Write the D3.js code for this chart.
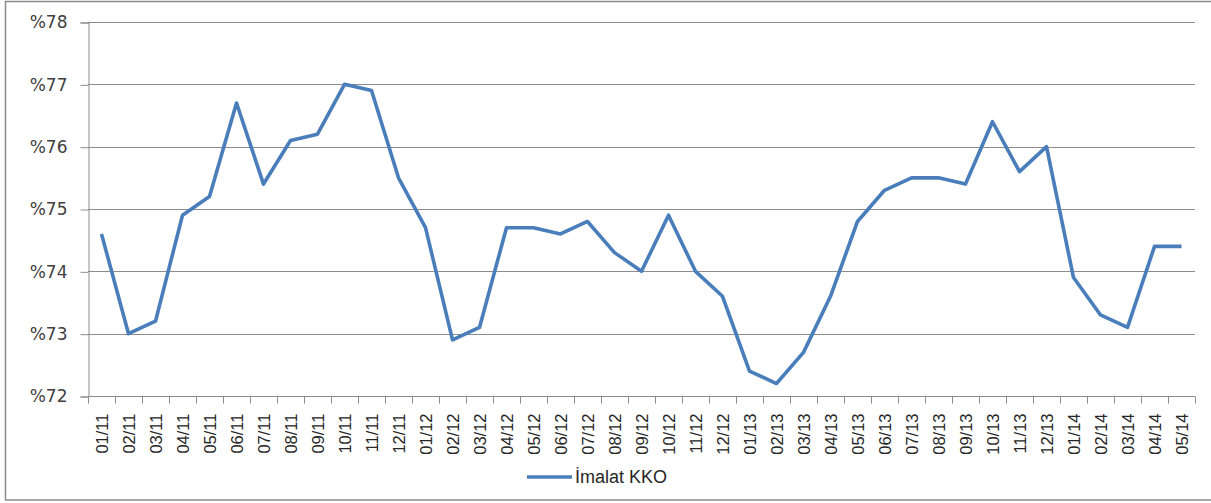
<!DOCTYPE html>
<html>
<head>
<meta charset="utf-8">
<script src="https://cdn.jsdelivr.net/npm/d3@7"></script>
<style>
  body { margin: 0; background: #fff; }
  svg { display: block; }
</style>
</head>
<body>
<div class="canvas"></div>
<script>
// months 01/11 .. 05/14
const months = ['01/11','02/11','03/11','04/11','05/11','06/11','07/11','08/11','09/11','10/11','11/11','12/11',
	'01/12','02/12','03/12','04/12','05/12','06/12','07/12','08/12','09/12','10/12','11/12','12/12',
	'01/13','02/13','03/13','04/13','05/13','06/13','07/13','08/13','09/13','10/13','11/13','12/13',
	'01/14','02/14','03/14','04/14','05/14'];

const kko = [74.6, 73.0, 73.2, 74.9, 75.2, 76.7, 75.4, 76.1, 76.2, 77.0, 76.9, 75.5,
	74.7, 72.9, 73.1, 74.7, 74.7, 74.6, 74.8, 74.3, 74.0, 74.9, 74.0, 73.6,
	72.4, 72.2, 72.7, 73.6, 74.8, 75.3, 75.5, 75.5, 75.4, 76.4, 75.6, 76.0,
	73.9, 73.3, 73.1, 74.4, 74.4];

const yTicks = [72, 73, 74, 75, 76, 77, 78];
const seriesName = 'İmalat KKO';

const dims = { width: 1211, height: 503 };
const plot = { left: 88, right: 1195, top: 22, bottom: 396 };
const lineColour = '#4a7ebb';
const gridColour = '#8c8c8c';

const svg = d3.select('.canvas').append('svg')
	.attr('width', dims.width)
	.attr('height', dims.height);

// outer frame
svg.append('rect')
	.attr('x', 5.5).attr('y', 1.5)
	.attr('width', 1220).attr('height', 498.5)
	.attr('fill', 'none')
	.attr('stroke', '#8a8a8a')
	.attr('stroke-width', 1.5);

const x = d3.scaleBand()
	.domain(months)
	.range([plot.left, plot.right]);

const y = d3.scaleLinear()
	.domain([72, 78])
	.range([plot.bottom, plot.top]);

// gridlines
svg.append('g')
	.selectAll('line')
	.data(yTicks.slice(1))
	.enter().append('line')
	.attr('x1', plot.left).attr('x2', plot.right)
	.attr('y1', d => Math.round(y(d)) + 0.5)
	.attr('y2', d => Math.round(y(d)) + 0.5)
	.attr('stroke', gridColour)
	.attr('stroke-width', 1);

// y axis
const yAxis = d3.axisLeft(y)
	.tickValues(yTicks)
	.tickSize(8)
	.tickPadding(13)
	.tickFormat(d => '%' + d);

const yG = svg.append('g')
	.attr('transform', `translate(${plot.left + 0.5}, 0.5)`)
	.call(yAxis);

yG.select('.domain').attr('stroke', gridColour);
yG.selectAll('.tick line').attr('stroke', gridColour);
yG.selectAll('text')
	.attr('fill', '#404040')
	.attr('font-family', 'DejaVu Sans, Verdana, sans-serif')
	.attr('font-size', 17);

// x axis: ticks on category boundaries
const xG = svg.append('g')
	.attr('transform', `translate(0, ${plot.bottom + 0.5})`);

xG.append('line')
	.attr('x1', plot.left).attr('x2', plot.right)
	.attr('stroke', gridColour);

const bounds = months.map(m => x(m)).concat([plot.right]);
xG.selectAll('.tk')
	.data(bounds)
	.enter().append('line')
	.attr('class', 'tk')
	.attr('x1', d => Math.round(d) + 0.5).attr('x2', d => Math.round(d) + 0.5)
	.attr('y1', 0).attr('y2', 7)
	.attr('stroke', gridColour);

xG.selectAll('text')
	.data(months)
	.enter().append('text')
	.attr('transform', d => `translate(${x(d) + x.bandwidth() / 2 + 6}, 17) rotate(-90)`)
	.attr('text-anchor', 'end')
	.attr('font-family', 'Liberation Sans, Arial, sans-serif')
	.attr('font-size', 16.5)
	.attr('fill', '#262626')
	.text(d => d);

// the line
const line = d3.line()
	.x((d, i) => x(months[i]) + x.bandwidth() / 2)
	.y(d => y(d));

svg.append('path')
	.datum(kko)
	.attr('d', line)
	.attr('fill', 'none')
	.attr('stroke', lineColour)
	.attr('stroke-width', 3.6)
	.attr('stroke-linejoin', 'round');

// legend
const legend = svg.append('g')
	.attr('transform', 'translate(527, 477)');

legend.append('line')
	.attr('x1', 0).attr('x2', 45)
	.attr('stroke', lineColour)
	.attr('stroke-width', 3.6);

legend.append('text')
	.attr('x', 48).attr('y', 6)
	.attr('font-family', 'Liberation Sans, Arial, sans-serif')
	.attr('font-size', 18)
	.attr('fill', '#262626')
	.text(seriesName);
</script>
</body>
</html>
